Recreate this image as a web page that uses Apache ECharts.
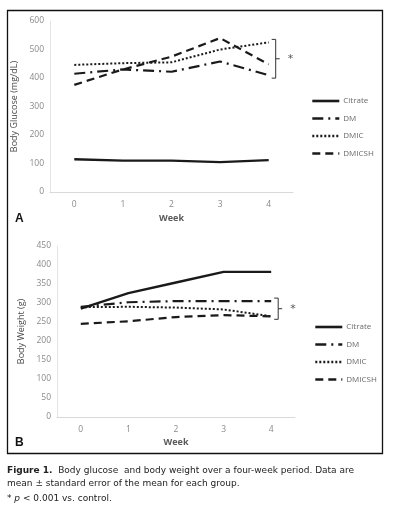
<!DOCTYPE html>
<html><head><meta charset="utf-8">
<script src="https://cdn.jsdelivr.net/npm/echarts@6/dist/echarts.min.js"></script>
<style>html,body{margin:0;padding:0;background:#fff}#c{width:393px;height:511px}</style>
</head><body><div id="c"></div>
<script>
const weeks = ['0','1','2','3','4'];
const seriesNames = ['Citrate','DM','DMIC','DMICSH'];
const glucoseCitrate = [115,110,110,105,112];
const glucoseDM = [415,430,422,458,410];
const glucoseDMIC = [446,452,455,500,525];
const glucoseDMICSH = [376,430,475,540,448];
const weightCitrate = [285,326,354,382,382];
const weightDM = [290,302,305,305,305];
const weightDMIC = [289,290,288,283,265];
const weightDMICSH = [245,252,263,268,265];
const glucoseTicks = {min:0,max:600,interval:100};
const weightTicks = {min:0,max:450,interval:50};

const lineColor = '#1a1a1a';
const dashes = {Citrate:'solid', DM:[11,5,2,5], DMIC:[2,2], DMICSH:[8,5]};
const widths = {Citrate:2.4, DM:2.2, DMIC:2.0, DMICSH:2.2};

function mk(name, data, idx){
  return {name, type:'line', data, xAxisIndex:idx, yAxisIndex:idx, symbol:'none',
    lineStyle:{color:lineColor, width:widths[name], type:dashes[name]},
    itemStyle:{color:lineColor}, animation:false};
}
const axisFont = {color:'#8a8a8a', fontSize:8.5, fontFamily:'Open Sans'};
function xAx(idx, gap){
  return {type:'category', gridIndex:idx, data:weeks, boundaryGap:true,
    axisLine:{lineStyle:{color:'#d9d9d9'}}, axisTick:{show:false},
    axisLabel:Object.assign({margin:8}, axisFont),
    name:'Week', nameLocation:'middle', nameGap:gap,
    nameTextStyle:{color:'#595959', fontSize:9, fontWeight:'bold', fontFamily:'Open Sans'}};
}
function yAx(idx, t, name, gap){
  return {type:'value', gridIndex:idx, min:t.min, max:t.max, interval:t.interval,
    axisLine:{show:true, lineStyle:{color:'#e3e3e3'}}, axisTick:{show:false}, splitLine:{show:false},
    axisLabel:Object.assign({margin:6}, axisFont),
    name, nameLocation:'middle', nameGap:gap,
    nameTextStyle:{color:'#4a4a4a', fontSize:9, fontWeight:500, fontFamily:'Open Sans'}};
}
const legendBase = {orient:'vertical', itemWidth:27, itemHeight:8, itemGap:9.5,
  itemStyle:{opacity:0, borderWidth:0}, lineStyle:{width:2.6},
  textStyle:{color:'#6a6a6a', fontSize:8, fontFamily:'Open Sans', padding:[0,0,0,-1]},
  data:seriesNames, selectedMode:false};

const chart = echarts.init(document.getElementById('c'), null, {renderer:'canvas'});
chart.setOption({
  animation:false,
  grid:[{left:50, right:100, top:21, bottom:319}, {left:57, right:98, top:246, bottom:94}],
  xAxis:[xAx(0,22), xAx(1,21)],
  yAxis:[yAx(0,glucoseTicks,'Body Glucose (mg/dL)',26), yAx(1,weightTicks,'Body Weight (g)',30)],
  legend:[Object.assign({left:306, top:92}, legendBase), Object.assign({left:309, top:318}, legendBase)],
  series:[
    mk('Citrate',glucoseCitrate,0), mk('DM',glucoseDM,0), mk('DMIC',glucoseDMIC,0), mk('DMICSH',glucoseDMICSH,0),
    mk('Citrate',weightCitrate,1), mk('DM',weightDM,1), mk('DMIC',weightDMIC,1), mk('DMICSH',weightDMICSH,1)
  ]
});

function bracket(idx, vals, xoff){
  const top = chart.convertToPixel({xAxisIndex:idx, yAxisIndex:idx}, ['4', Math.max(...vals)]);
  const bot = chart.convertToPixel({xAxisIndex:idx, yAxisIndex:idx}, ['4', Math.min(...vals)]);
  const x = top[0] + xoff, y1 = top[1]-3, y2 = bot[1]+3, ym = (y1+y2)/2;
  return [
    {type:'polyline', shape:{points:[[x-4,y1],[x,y1],[x,y2],[x-4,y2]]}, style:{stroke:'#333', lineWidth:1, fill:null}},
    {type:'line', shape:{x1:x, y1:ym, x2:x+4, y2:ym}, style:{stroke:'#333', lineWidth:1}},
    {type:'text', x:x+12, y:ym, style:{text:'*', fill:'#555', font:'11px "DejaVu Sans"', verticalAlign:'middle'}}
  ];
}
const capFont = '9px "DejaVu Sans"';
chart.setOption({graphic:[
  {type:'rect', shape:{x:7.5, y:10.5, width:375, height:443}, style:{stroke:'#111', lineWidth:1.3, fill:null}, silent:true},
  {type:'text', x:15, y:213, style:{text:'A', font:'bold 12px "Liberation Sans"', fill:'#111'}},
  {type:'text', x:15, y:437, style:{text:'B', font:'bold 12px "Liberation Sans"', fill:'#111'}},
  ...bracket(0,[glucoseDM[4],glucoseDMIC[4],glucoseDMICSH[4]],7),
  ...bracket(1,[weightDM[4],weightDMIC[4],weightDMICSH[4]],7),
  {type:'text', x:7, y:466, style:{text:'{b|Figure 1.}  Body glucose  and body weight over a four-week period. Data are', font:capFont, fill:'#222',
    rich:{b:{fontWeight:'bold', fontSize:9, fontFamily:'DejaVu Sans', fill:'#222'}}}},
  {type:'text', x:7, y:479, style:{text:'mean ± standard error of the mean for each group.', font:capFont, fill:'#222'}},
  {type:'text', x:7, y:494, style:{text:'* {i|p} < 0.001 vs. control.', font:capFont, fill:'#222',
    rich:{i:{fontStyle:'italic', fontSize:9, fontFamily:'DejaVu Sans', fill:'#222'}}}}
]});
</script></body></html>
